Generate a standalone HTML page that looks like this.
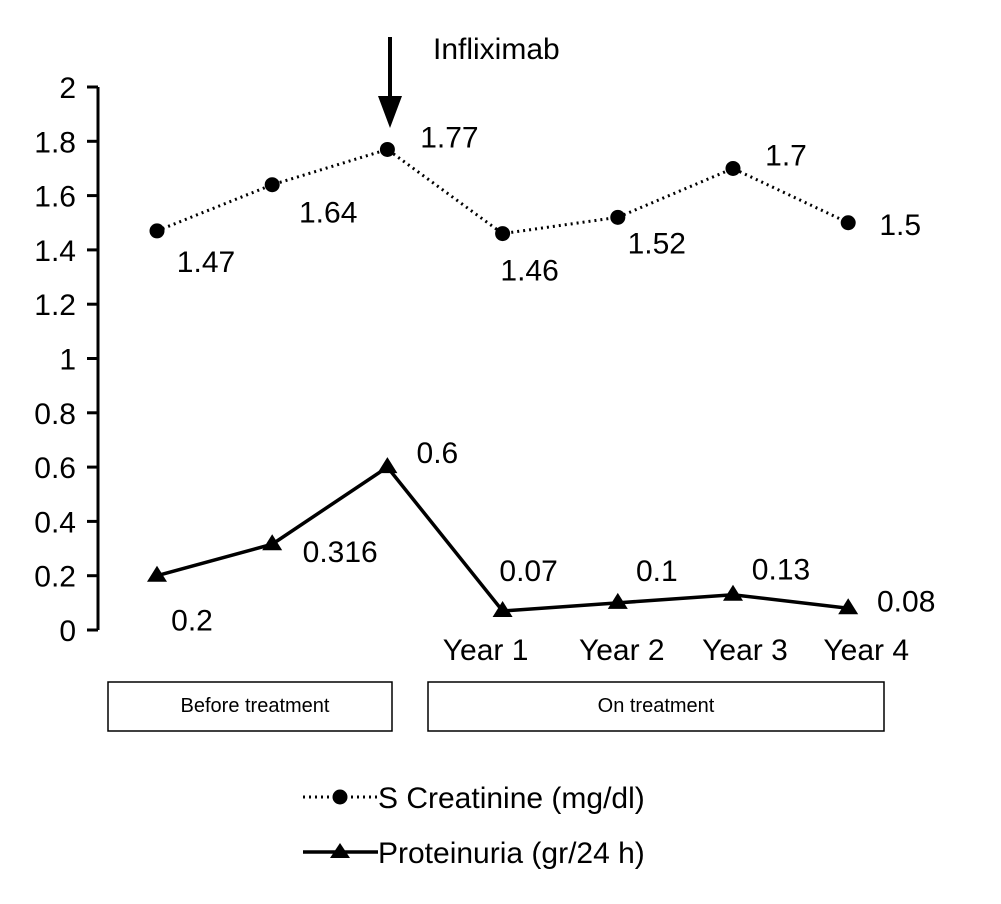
<!DOCTYPE html>
<html><head><meta charset="utf-8">
<style>
html,body{margin:0;padding:0;background:#fff;}
svg{display:block;font-family:"Liberation Sans",sans-serif;}
</style></head>
<body>
<svg id="chart" width="1001" height="904" viewBox="0 0 1001 904">
<g id="axis"></g>
<g id="marks"></g>
<g>
  <line x1="390" y1="37" x2="390" y2="105" stroke="#000" stroke-width="4"/>
  <polygon points="378,96 402,96 390,128" fill="#000"/>
  <text x="433" y="59" font-size="30">Infliximab</text>
</g>
<g>
  <rect x="108" y="682" width="284" height="49" fill="none" stroke="#000" stroke-width="1.5"/>
  <text x="255" y="712" font-size="20" text-anchor="middle">Before treatment</text>
  <rect x="428" y="682" width="456" height="49" fill="none" stroke="#000" stroke-width="1.5"/>
  <text x="656" y="712" font-size="20" text-anchor="middle">On treatment</text>
</g>
<g>
  <g>
    <line x1="303" y1="797" x2="378" y2="797" stroke="#000" stroke-width="3" stroke-dasharray="2,4"/>
    <circle cx="340" cy="797" r="7.5" fill="#000"/>
    <text x="378" y="808" font-size="30">S Creatinine (mg/dl)</text>
  </g>
  <g>
    <line x1="303" y1="852" x2="378" y2="852" stroke="#000" stroke-width="3.5"/>
    <polygon points="340,843 350,858 330,858" fill="#000"/>
    <text x="378" y="863" font-size="30">Proteinuria (gr/24 h)</text>
  </g>
</g>
</svg>
<script>
const categories = ["", "", "", "Year 1", "Year 2", "Year 3", "Year 4"];
const creatinine = [1.47, 1.64, 1.77, 1.46, 1.52, 1.7, 1.5];
const proteinuria = [0.2, 0.316, 0.6, 0.07, 0.1, 0.13, 0.08];
const yTicks = [0, 0.2, 0.4, 0.6, 0.8, 1, 1.2, 1.4, 1.6, 1.8, 2];
const yTickLabels = ["0", "0.2", "0.4", "0.6", "0.8", "1", "1.2", "1.4", "1.6", "1.8", "2"];
const creatLabels = ["1.47", "1.64", "1.77", "1.46", "1.52", "1.7", "1.5"];
const protLabels = ["0.2", "0.316", "0.6", "0.07", "0.1", "0.13", "0.08"];

const creatOff = [[49,41],[56,38],[62,-2],[27,47],[39,36],[53,-3],[52,12]];
const protOff = [[35,55],[68,18],[50,-4],[26,-30],[39,-22],[48,-15],[58,3]];
const catOff = [0,0,0,-17,4,12,18];

const NS = "http://www.w3.org/2000/svg";
function y(v){ return 630 - v * 271.5; }
function x(i){ return 157 + i * 115.2; }
function mk(tag, attrs, parent){
  const e = document.createElementNS(NS, tag);
  for (const k in attrs) e.setAttribute(k, attrs[k]);
  parent.appendChild(e);
  return e;
}
const axis = document.getElementById('axis');
const marks = document.getElementById('marks');

let al = mk('line', {x1:98, y1:y(2), x2:98, y2:y(0), stroke:'#000', 'stroke-width':3}, axis);


yTicks.forEach((t, i) => {
  const tk = mk('line', {x1:87, y1:y(t), x2:98, y2:y(t), stroke:'#000', 'stroke-width':3}, axis);
  
  
  const tl = mk('text', {x:76, y:y(t)+11, 'font-size':30, 'text-anchor':'end'}, axis);
  tl.textContent = yTickLabels[i];
  
  
});

categories.forEach((c, i) => {
  if (!c) return;
  const t = mk('text', {x:x(i)+catOff[i], y:660, 'font-size':30, 'text-anchor':'middle'}, marks);
  t.textContent = c;
  
  
});

const cl = mk('polyline', {points:creatinine.map((v,i)=>x(i)+','+y(v)).join(' '), fill:'none', stroke:'#000', 'stroke-width':3, 'stroke-dasharray':'2,4'}, marks);


const pl = mk('polyline', {points:proteinuria.map((v,i)=>x(i)+','+y(v)).join(' '), fill:'none', stroke:'#000', 'stroke-width':3.5}, marks);



creatinine.forEach((v, i) => {
  const c = mk('circle', {cx:x(i), cy:y(v), r:7.5, fill:'#000'}, marks);
  
  
  const t = mk('text', {x:x(i)+creatOff[i][0], y:y(v)+creatOff[i][1], 'font-size':30, 'text-anchor':'middle'}, marks);
  t.textContent = creatLabels[i];
  
  
});
proteinuria.forEach((v, i) => {
  const px = x(i), py = y(v);
  const p = mk('polygon', {points:`${px},${py-10} ${px+10},${py+6} ${px-10},${py+6}`, fill:'#000'}, marks);
  
  
  const t = mk('text', {x:px+protOff[i][0], y:py+protOff[i][1], 'font-size':30, 'text-anchor':'middle'}, marks);
  t.textContent = protLabels[i];
  
  
});
</script>
</body></html>
